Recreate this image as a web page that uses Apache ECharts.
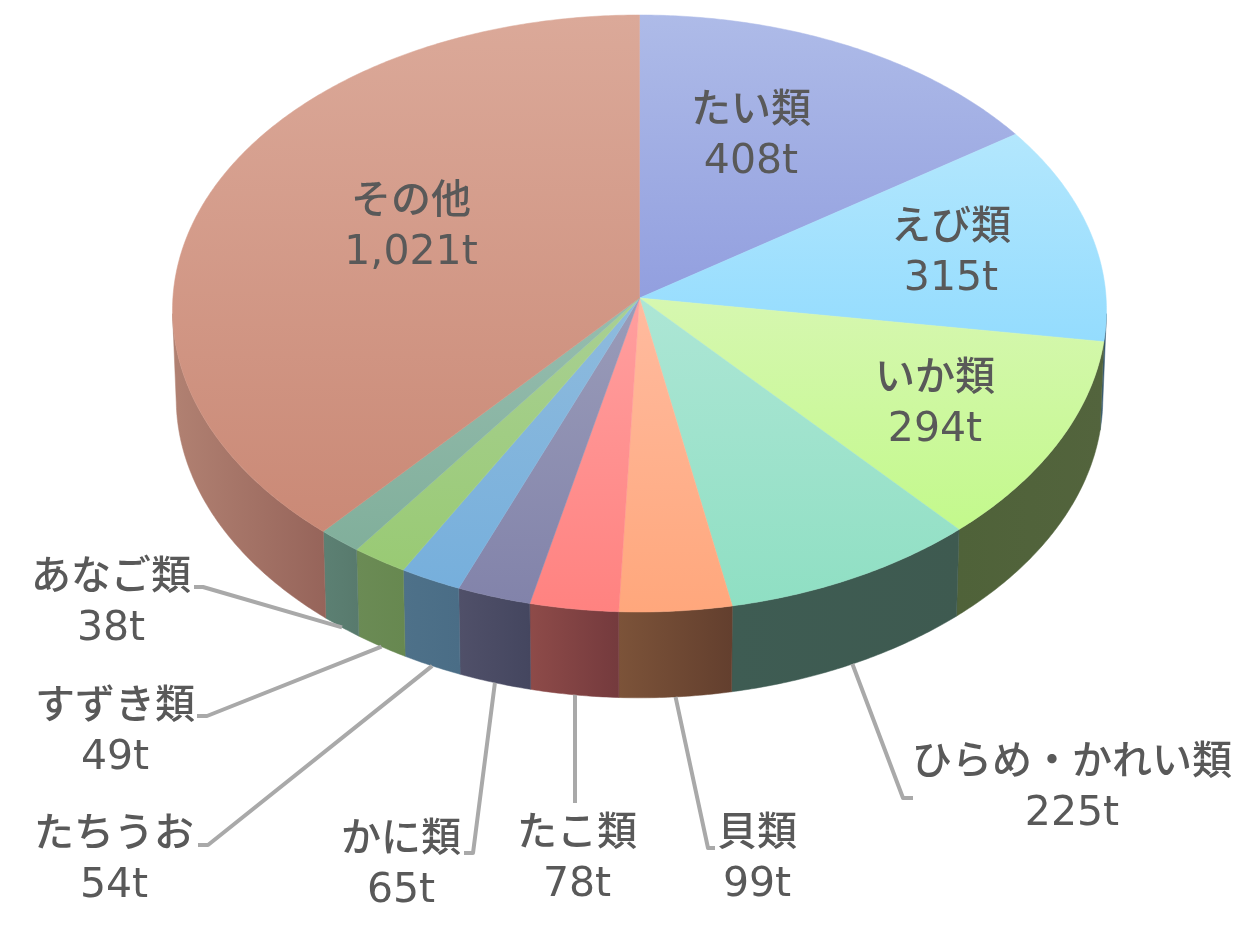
<!DOCTYPE html>
<html><head><meta charset="utf-8">
<style>html,body{margin:0;padding:0;background:#fff}#c{width:1252px;height:930px}</style>
<script src="https://cdn.jsdelivr.net/npm/echarts@6/dist/echarts.min.js"></script>
</head><body><div id="c"></div>
<script>
// ---- data ----
const categories = ['たい類','えび類','いか類','ひらめ・かれい類','貝類','たこ類','かに類','たちうお','すずき類','あなご類','その他'];
const tons = [408,315,294,225,99,78,65,54,49,38,1021];
// ---- styles ----
const topColors = [['#aebbe8','#929fdf'],['#b3e7fd','#94dcfe'],['#d6f7b0','#c3f98c'],['#ade6d5','#8fdfc3'],['#ffbb9f','#ffa77c'],['#ff9f9f','#ff8280'],['#9a9cb9','#8283aa'],['#8fbbdd','#76afdc'],['#a9d094','#99ca74'],['#96bdaf','#81af9b'],['#dba999','#ca8976']];
const wallColors = [['#5c6590','#4d5680'],['#3e6278','#2f5068'],['#4f6239','#53643d'],['#3e5c53','#3e5a50'],['#7c5339','#633f2e'],['#8e4b49','#743a3d'],['#505069','#44465f'],['#4e7189','#4a6d86'],['#6b8b55','#678850'],['#5c8073','#587a6d'],['#b18172','#96645a']];
// ---- layout ----
const TOP = {cx:639.5, cy:298, k:466.6, m:297.7};
const BOT = {cx:639.5, cy:387, k:462.9, m:294.7};
const PERSP_X = 0.04, PERSP_Y = 0.0519;
const WALL_RANGE = [93, 267];
const labelAt = [[751,107],[951,224],[935,375],[1072,759],[757,830],[577,830],[401,836],[114,831],[115,703],[111,574],[411,198]];
const elbows = [null,null,null,[[913,798],[903,798]],[[715,848],[708,848]],[[575,803]],[[464,853],[473,853]],[[198,845],[208,845]],[[197,716],[207,716]],[[194,587],[203,587]],null];
const LINE_GAP = 55;
const NAME_FONT = '500 40px "Noto Sans CJK JP"';
const NUM_FONT = '41px "DejaVu Sans"';
const TEXT = '#595959';

const total = tons.reduce((a,b)=>a+b,0);
const starts = []; { let s=0; tons.forEach(v=>{starts.push(s); s+=v;}); }
function rim(d,deg){
  const t=deg*Math.PI/180, X=Math.sin(t), Y=-Math.cos(t);
  return [d.cx+d.k*X/(1-PERSP_X*Y), d.cy+d.m*Y/(1-PERSP_Y*Y)];
}
function arc(d,a0,a1){
  const n=Math.max(2,Math.ceil(Math.abs(a1-a0))*2), p=[];
  for(let i=0;i<=n;i++) p.push(rim(d,a0+(a1-a0)*i/n));
  return p;
}
function range(i){ return [starts[i]/total*360,(starts[i]+tons[i])/total*360]; }
function grad(c,horizontal){
  return new echarts.graphic.LinearGradient(0,0,horizontal?1:0,horizontal?0:1,[{offset:0,color:c[0]},{offset:1,color:c[1]}]);
}
const rows = categories.map((c,i)=>[c,tons[i]]);

function wallItem(params){
  const i=params.dataIndex, r=range(i);
  const a0=Math.max(r[0],WALL_RANGE[0]), a1=Math.min(r[1],WALL_RANGE[1]);
  if(a0>=a1) return {type:'group',children:[]};
  const fill=grad(wallColors[i],true);
  return {type:'polygon',shape:{points:arc(TOP,a0,a1).concat(arc(BOT,a1,a0))},
    style:{fill,stroke:fill,lineWidth:0.5}};
}
function topItem(params){
  const i=params.dataIndex, r=range(i), fill=grad(topColors[i],false);
  return {type:'polygon',shape:{points:[[TOP.cx,TOP.cy]].concat(arc(TOP,r[0],r[1]))},
    style:{fill,stroke:fill,lineWidth:0.5}};
}
function labelItem(params,api){
  const i=params.dataIndex, r=range(i), at=labelAt[i], ch=[];
  if(elbows[i]){
    const tip=rim(BOT,(r[0]+r[1])/2);
    const e=elbows[i];
    if(e.length===1) tip[0]=e[0][0];
    ch.push({type:'polyline',shape:{points:e.concat([tip])},style:{fill:null,stroke:'#a9a9a9',lineWidth:4,lineJoin:'round'}});
  }
  ch.push({type:'text',style:{x:at[0],y:at[1],text:api.value(0),font:NAME_FONT,fill:TEXT,align:'center',verticalAlign:'middle'}});
  ch.push({type:'text',style:{x:at[0],y:at[1]+LINE_GAP,text:api.value(1).toLocaleString('en-US')+'t',font:NUM_FONT,fill:TEXT,align:'center',verticalAlign:'middle'}});
  return {type:'group',children:ch};
}
const chart=echarts.init(document.getElementById('c'),null,{renderer:'canvas'});
chart.setOption({
  animation:false,backgroundColor:'#ffffff',
  series:[
    {type:'custom',coordinateSystem:'none',data:rows,renderItem:wallItem,z:1,silent:true},
    {type:'custom',coordinateSystem:'none',data:rows,renderItem:topItem,z:2,silent:true},
    {type:'custom',coordinateSystem:'none',data:rows,renderItem:labelItem,z:3,silent:true}
  ]
});
</script></body></html>
